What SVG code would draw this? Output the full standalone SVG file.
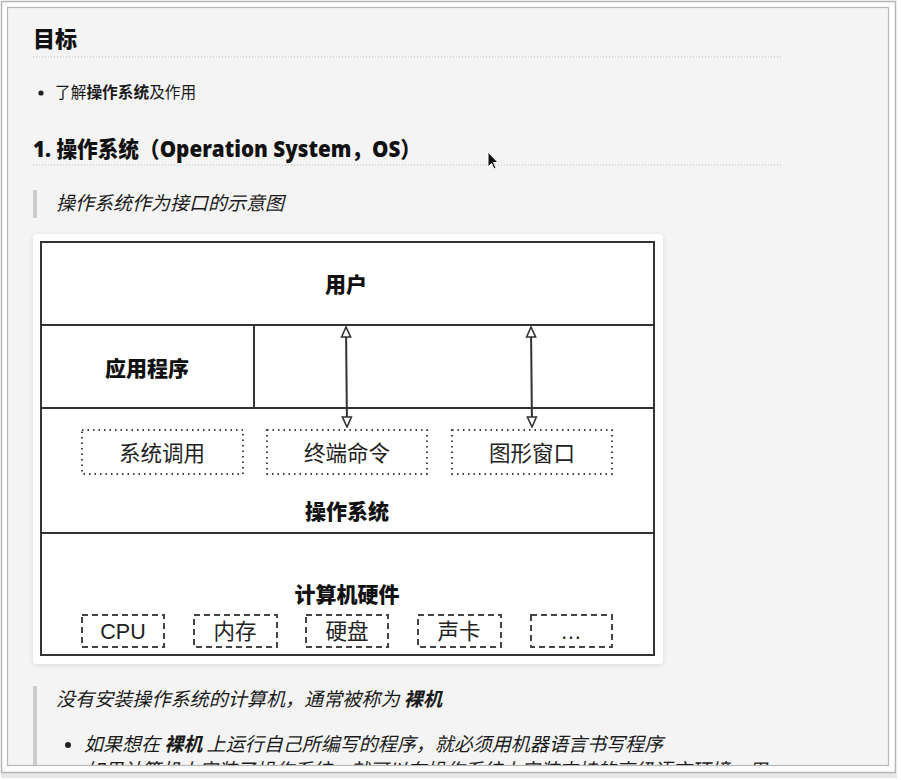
<svg xmlns="http://www.w3.org/2000/svg" width="901" height="780" viewBox="0 0 901 780">
<defs>
<style>
.h{font-family:"Open Sans","Noto Sans CJK SC",sans-serif;font-weight:800;font-size:22px;fill:#111}
.b{font-family:"Noto Sans CJK SC",sans-serif;font-size:15.7px;fill:#1a1a1a}
.q{font-family:"Noto Sans CJK SC",sans-serif;font-size:19px;font-style:italic;fill:#1a1a1a}
.rule{stroke:#bbb;stroke-width:1;stroke-dasharray:1 2}
.bar{fill:#ccc}
.box{fill:none;stroke:#333;stroke-width:2}
.ln{stroke:#333;stroke-width:2}
.lb{font-family:"Noto Sans CJK SC",sans-serif;font-weight:800;font-size:21px;fill:#111;text-anchor:middle}
.lr{font-family:"Liberation Sans","Noto Sans CJK SC",sans-serif;font-size:21.5px;fill:#222;text-anchor:middle}
.dot{fill:none;stroke:#444;stroke-width:2;stroke-dasharray:1.5 4}
.dash{fill:none;stroke:#444;stroke-width:2;stroke-dasharray:6 4}
.arr{stroke:#333;stroke-width:2;fill:none;marker-start:url(#ah);marker-end:url(#ah)}
</style>
<marker id="ah" viewBox="0 0 12 12" refX="11" refY="6" markerWidth="12" markerHeight="12" markerUnits="userSpaceOnUse" orient="auto-start-reverse">
<path d="M1,1.5 L11,6 L1,10.5 Z" fill="#fff" stroke="#333" stroke-width="1.6"/>
</marker>
<filter id="sh" x="-5%" y="-5%" width="110%" height="110%">
<feDropShadow dx="0" dy="1" stdDeviation="2" flood-color="#000" flood-opacity="0.12"/>
</filter>
<clipPath id="page"><rect x="8" y="8" width="880" height="757"/></clipPath>
</defs>
<rect x="0" y="0" width="901" height="780" fill="#fff"/>
<rect x="1" y="773" width="896" height="5" fill="#e6e6e6"/>
<rect x="1.5" y="1.5" width="894" height="771" fill="#fff" stroke="#b5b5b5" stroke-width="1.5"/>
<rect x="7.5" y="7.5" width="881" height="758" fill="#f4f4f4" stroke="#b8b8b8" stroke-width="1.2"/>

<g id="content" clip-path="url(#page)">
<text class="h" x="33" y="47" font-size="23">目标</text>
<line class="rule" x1="33" y1="57" x2="783" y2="57"/>
<circle cx="41" cy="93" r="2.6" fill="#222"/>
<text class="b" x="55" y="98">了解<tspan font-weight="bold">操作系统</tspan>及作用</text>
<text class="h" x="33" y="157" textLength="388" lengthAdjust="spacingAndGlyphs">1. 操作系统（Operation System，OS）</text>
<line class="rule" x1="33" y1="165" x2="783" y2="165"/>
<rect class="bar" x="33" y="190" width="4" height="28"/>
<text class="q" x="56" y="210">操作系统作为接口的示意图</text>

<g id="card">
<rect x="33" y="234" width="630" height="430" rx="4" fill="#fff" filter="url(#sh)"/>
</g>
<g id="layers">
<rect class="box" x="41" y="242" width="613" height="413"/>
<line class="ln" x1="41" y1="325" x2="654" y2="325"/>
<line class="ln" x1="254" y1="325" x2="254" y2="408"/>
<line class="ln" x1="41" y1="408" x2="654" y2="408"/>
<line class="ln" x1="41" y1="533" x2="654" y2="533"/>
</g>
<g id="user"><text class="lb" x="346" y="292">用户</text></g>
<g id="apps"><text class="lb" x="147" y="376">应用程序</text></g>
<g id="os"><text class="lb" x="347" y="519">操作系统</text></g>
<g id="hw"><text class="lb" x="347" y="602">计算机硬件</text></g>
<g id="syscall"><rect class="dot" x="82" y="430" width="161" height="44"/><text class="lr" x="162" y="461">系统调用</text></g>
<g id="terminal"><rect class="dot" x="267" y="430" width="160" height="44"/><text class="lr" x="347" y="461">终端命令</text></g>
<g id="gui"><rect class="dot" x="452" y="430" width="160" height="44"/><text class="lr" x="532" y="461">图形窗口</text></g>
<g id="cpu"><rect class="dash" x="82" y="615" width="82" height="32"/><text class="lr" x="123" y="639">CPU</text></g>
<g id="mem"><rect class="dash" x="194" y="615" width="83" height="32"/><text class="lr" x="235" y="639">内存</text></g>
<g id="disk"><rect class="dash" x="306" y="615" width="82" height="32"/><text class="lr" x="347" y="639">硬盘</text></g>
<g id="sound"><rect class="dash" x="418" y="615" width="83" height="32"/><text class="lr" x="459" y="639">声卡</text></g>
<g id="more"><rect class="dash" x="531" y="615" width="81" height="32"/><text class="lr" x="571" y="639">…</text></g>
<g id="connectors">
<line class="arr" x1="346" y1="327" x2="347" y2="427"/>
<line class="arr" x1="531" y1="327" x2="532" y2="427"/>
</g>

<rect class="bar" x="33" y="686" width="4" height="90"/>
<text class="q" x="56" y="706" textLength="386" lengthAdjust="spacingAndGlyphs">没有安装操作系统的计算机，通常被称为 <tspan font-weight="bold">裸机</tspan></text>
<circle cx="68" cy="745" r="3" fill="#222"/>
<text class="q" x="84" y="751" textLength="579" lengthAdjust="spacingAndGlyphs">如果想在 <tspan font-weight="bold">裸机</tspan> 上运行自己所编写的程序，就必须用机器语言书写程序</text>
<text class="q" x="85" y="777" textLength="682" lengthAdjust="spacingAndGlyphs">如果计算机上安装了操作系统，就可以在操作系统上安装支持的高级语言环境，用</text>
</g>

<g id="cursor">
<path d="M488,152 L488,167 L491.5,163.5 L494,169 L496,168 L493.5,162.5 L498,162.5 Z" fill="#111" stroke="#fff" stroke-width="1"/>
</g>
</svg>
